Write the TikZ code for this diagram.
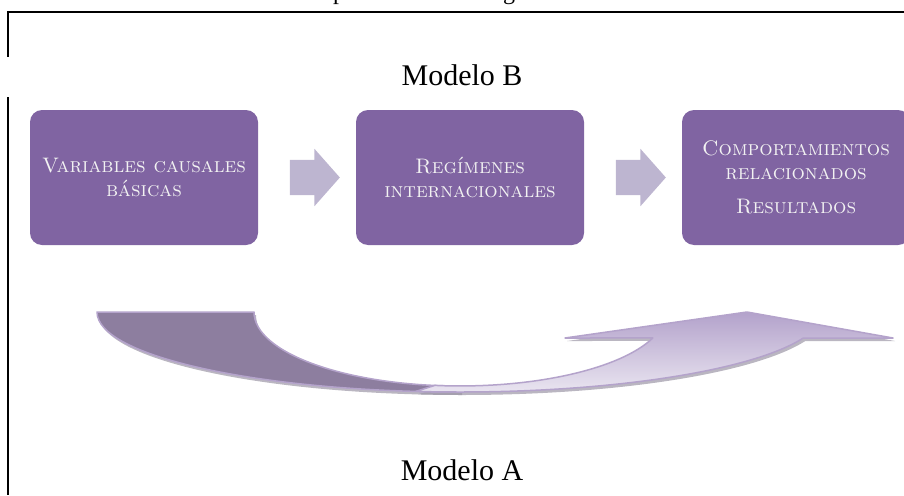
\documentclass[tikz,border=0pt]{standalone}
\usepackage{fontspec}
\newfontfamily\modfont{Liberation Serif}
\usetikzlibrary{shapes.arrows,calc}
\definecolor{boxpurple}{HTML}{8064A2}
\definecolor{boxtext}{HTML}{F2F2F2}
\definecolor{smallarrow}{HTML}{BDB5D0}
\definecolor{leftfill}{HTML}{8D7E9F}
\definecolor{bandedge}{HTML}{B4A3CB}
\definecolor{headtop}{HTML}{B3A2CB}
\definecolor{headbottom}{HTML}{ECE8F2}
\definecolor{shadowgray}{HTML}{9C97A6}
\tikzset{
  frameline/.style={line width=2pt, black},
  stagebox/.style={rectangle, rounded corners=12pt, fill=boxpurple, text=boxtext,
    minimum width=228pt, minimum height=135pt, inner sep=0pt, align=center,
    font=\fontsize{21}{24}\selectfont\scshape},
  flowarrow/.style={single arrow, fill=smallarrow, draw=none, inner xsep=0pt, inner ysep=17.5pt,
    minimum height=50pt, single arrow head extend=11pt, single arrow tip angle=97},
  modelo/.style={font=\modfont\fontsize{30}{30}\selectfont, inner sep=0pt},
  frag/.style={font=\modfont\fontsize{24}{24}\selectfont, inner sep=0pt, anchor=base},
  bandshadow/.style={fill=shadowgray, opacity=0.7},
}
\begin{document}
\begin{tikzpicture}[x=1pt,y=-1pt]
\useasboundingbox (0,0) rectangle (904,495);
\begin{scope}
\clip (0,0) rectangle (904,495);
% fragments of the caption above
\node[frag] (fp) at (339,0) {p};
\node[frag] (fg) at (509,0) {g};
% frame
\draw[frameline] (7,12) -- (904,12);
\draw[frameline] (8,11) -- (8,57);
\draw[frameline] (8,97) -- (8,495);
% titles
\node[modelo] (mb) at (462,75) {Modelo B};
\node[modelo] (ma) at (462,470) {Modelo A};
% boxes
\node[stagebox] (b1) at (144,177.5) {Variables causales\\básicas};
\node[stagebox] (b2) at (470,177.5) {Regímenes\\internacionales};
\node[stagebox] (b3) at (796,177.5) {Comportamientos\\relacionados\\[10pt]Resultados};
% flow arrows
\node[flowarrow] (a1) at ($(b1.east)!0.5!(b2.west)$) {};
\node[flowarrow] (a2) at ($(b2.east)!0.5!(b3.west)$) {};
% curved arrow: shadows
\begin{scope}[shift={(2,3)}]
\fill[bandshadow] (97,312) -- (254,312) arc[start angle=180, end angle=90, x radius=206, y radius=74]
  -- (460,392) arc[start angle=90, end angle=180, x radius=363, y radius=80] -- cycle;
\fill[bandshadow] (434.9,385.4) arc[start angle=97, end angle=20.6, x radius=206, y radius=74]
  -- (565,338) -- (747,312) -- (893,338) -- (803.3,338)
  arc[start angle=18.97, end angle=97, x radius=363, y radius=80] -- cycle;
\end{scope}
% left (back) part of the band
\draw[fill=leftfill, draw=bandedge, line width=1.5pt, line join=round]
  (97,312) -- (254,312) arc[start angle=180, end angle=90, x radius=206, y radius=74]
  -- (460,392) arc[start angle=90, end angle=180, x radius=363, y radius=80] -- cycle;
% right (front) part with the head
\shade[top color=headtop, bottom color=headbottom]
  (434.9,385.4) arc[start angle=97, end angle=20.6, x radius=206, y radius=74]
  -- (565,338) -- (747,312) -- (893,338) -- (803.3,338)
  arc[start angle=18.97, end angle=97, x radius=363, y radius=80] -- cycle;
\draw[draw=bandedge, line width=1.5pt, line join=round]
  (434.9,385.4) arc[start angle=97, end angle=20.6, x radius=206, y radius=74]
  -- (565,338) -- (747,312) -- (893,338) -- (803.3,338)
  arc[start angle=18.97, end angle=97, x radius=363, y radius=80] -- cycle;
\end{scope}
\end{tikzpicture}
\end{document}
